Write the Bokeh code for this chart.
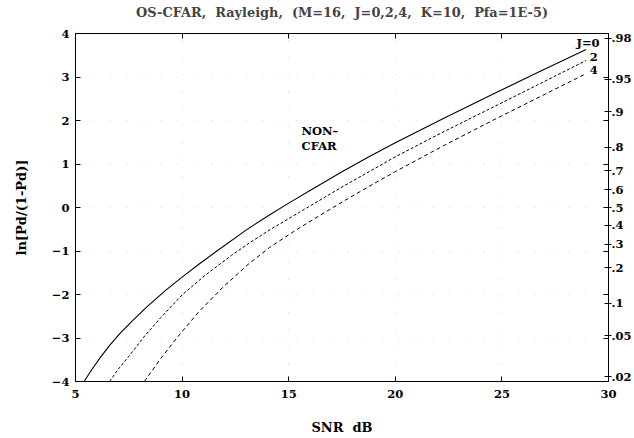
import numpy as np
from bokeh.plotting import figure
from bokeh.models import LinearAxis, FixedTicker, Label, Range1d, CustomLabelingPolicy
from bokeh.embed import file_html
from bokeh.resources import INLINE

# ---- data ----
snr_j0 = [5.4, 5.8, 6.16, 6.6, 7.1, 7.7, 8.4, 9.24, 10.0, 10.8, 11.55, 13.0, 14.0, 15.0,
          16.2, 17.5, 18.7, 20.0, 22.3, 24.64, 26.8, 28.95]
lr_j0 = [-4.00, -3.70, -3.45, -3.17, -2.89, -2.59, -2.26, -1.90, -1.60, -1.30, -1.03, -0.52,
         -0.20, 0.10, 0.45, 0.82, 1.15, 1.49, 2.06, 2.62, 3.13, 3.63]

snr_j2 = [6.6, 7.0, 7.54, 8.2, 9.0, 10.0, 11.1, 12.32, 13.2, 14.16, 15.5, 17.5, 20.02,
          22.3, 24.64, 26.8, 28.95]
lr_j2 = [-4.00, -3.72, -3.40, -2.98, -2.53, -2.01, -1.55, -1.10, -0.80, -0.50, -0.11, 0.47,
         1.17, 1.75, 2.32, 2.85, 3.38]

snr_j4 = [8.23, 9.0, 9.8, 10.78, 11.9, 13.09, 14.1, 15.24, 16.5, 17.8, 19.0, 20.02, 22.3,
          24.64, 26.8, 28.92]
lr_j4 = [-4.00, -3.47, -2.97, -2.40, -1.84, -1.31, -0.92, -0.55, -0.17, 0.21, 0.55, 0.83,
         1.43, 2.02, 2.55, 3.07]

x_ticks = [5, 10, 15, 20, 25, 30]
y_ticks = [-4, -3, -2, -1, 0, 1, 2, 3, 4]
pd_values = [0.98, 0.95, 0.9, 0.8, 0.7, 0.6, 0.5, 0.4, 0.3, 0.2, 0.1, 0.05, 0.02]
pd_labels = [".98", ".95", ".9", ".8", ".7", ".6", ".5", ".4", ".3", ".2", ".1", ".05", ".02"]

FONT = "DejaVu Serif"
FS = "11.5px"
NB = "\u00a0"

p = figure(width=634, height=438, x_range=Range1d(5, 30), y_range=Range1d(-4, 4),
           output_backend="svg", toolbar_location=None,
           min_border_left=75, min_border_bottom=57, min_border_top=33)
p.outline_line_color = "black"
p.outline_line_width = 1

p.title.text = ("OS-CFAR," + NB * 2 + "Rayleigh," + NB * 2 + "(M=16," + NB * 2 + "J=0,2,4,"
                + NB * 2 + "K=10," + NB * 2 + "Pfa=1E-5)")
p.title.align = "center"
p.title.text_font = FONT
p.title.text_font_size = "12.9px"
p.title.text_font_style = "bold"
p.title.standoff = 5

# grid - faint dotted
p.xgrid.ticker = FixedTicker(ticks=x_ticks[1:-1])
p.ygrid.ticker = FixedTicker(ticks=y_ticks[1:-1])
for g in (p.xgrid, p.ygrid):
    g.grid_line_color = "#c8c8c8"
    g.grid_line_dash = "1 16"
    g.grid_line_alpha = 0.7

def style_axis(ax):
    ax.axis_line_color = "black"
    ax.major_tick_line_color = "black"
    ax.minor_tick_line_color = "black"
    ax.major_label_text_font = FONT
    ax.major_label_text_font_size = FS
    ax.major_label_text_font_style = "bold"
    ax.major_label_text_color = "black"
    ax.axis_label_text_font = FONT
    ax.axis_label_text_font_size = "13px"
    ax.axis_label_text_font_style = "bold"
    ax.axis_label_text_color = "black"

xa = p.xaxis[0]
xa.ticker = FixedTicker(ticks=x_ticks)
xa.major_tick_in = 5
xa.major_tick_out = 0
xa.major_label_standoff = 8
xa.axis_label = "SNR" + NB + " dB"
xa.axis_label_standoff = 19
style_axis(xa)

ya = p.yaxis[0]
ya.ticker = FixedTicker(ticks=y_ticks)
ya.major_tick_in = 5
ya.major_tick_out = 0
ya.major_label_standoff = 6
ya.axis_label = "ln[Pd/(1-Pd)]"
ya.axis_label_standoff = 20
style_axis(ya)

hide_all = CustomLabelingPolicy(code="for (const i of Array.from(indices)) { indices.unset(i) }\nreturn indices")
top = LinearAxis(ticker=FixedTicker(ticks=x_ticks), major_tick_in=5, major_tick_out=0,
                 major_label_standoff=0, major_label_policy=hide_all)
style_axis(top)
p.add_layout(top, "above")

pd_logit = [round(float(np.log(v / (1 - v))), 6) for v in pd_values]
right = LinearAxis(ticker=FixedTicker(ticks=pd_logit, minor_ticks=y_ticks),
                   major_tick_in=4, major_tick_out=3, minor_tick_in=5, minor_tick_out=0,
                   major_label_standoff=0,
                   major_label_overrides={k: lab for k, lab in zip(pd_logit, pd_labels)})
style_axis(right)
p.add_layout(right, "right")

p.line(snr_j0, lr_j0, line_color="black", line_width=1.1)
p.line(snr_j2, lr_j2, line_color="black", line_width=1, line_dash="3 2")
p.line(snr_j4, lr_j4, line_color="black", line_width=1, line_dash="4 3")

def lab(x, y, t, align="left"):
    p.add_layout(Label(x=x, y=y, text=t, text_font=FONT, text_font_size=FS,
                       text_font_style="bold", text_align=align, text_baseline="alphabetic",
                       text_color="black"))

lab(29.58, 3.79, "J=0", "right")
lab(29.5, 3.45, "2", "right")
lab(29.5, 3.15, "4", "right")
lab(15.6, 1.76, "NON–")
lab(15.6, 1.42, "CFAR")

open("out.html", "w").write(file_html(p, INLINE))
